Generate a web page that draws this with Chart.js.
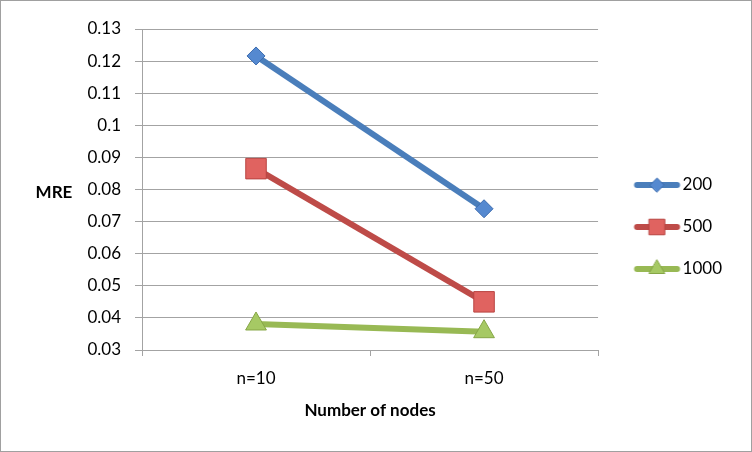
<!DOCTYPE html>
<html>
<head>
<meta charset="utf-8">
<script src="https://cdn.jsdelivr.net/npm/chart.js@4/dist/chart.umd.min.js"></script>
<style>
  html, body { margin: 0; padding: 0; background: #fff; }
  #wrap { width: 752px; height: 452px; position: relative; }
</style>
</head>
<body>
<div id="wrap"><canvas id="c" width="752" height="452"></canvas></div>
<script>
const categories = ['n=10', 'n=50'];
const seriesNames = ['200', '500', '1000'];
const s200 = [0.1216, 0.0740];
const s500 = [0.0865, 0.0450];
const s1000 = [0.0381, 0.0357];
const yTicks = [0.03, 0.04, 0.05, 0.06, 0.07, 0.08, 0.09, 0.1, 0.11, 0.12, 0.13];
const yTitle = 'MRE';
const xTitle = 'Number of nodes';

const FONT = 'Lato, "Open Sans", sans-serif';
const GRID = '#a3a3a3';

const styles = [
  { line: '#4a7ebb', fill: '#5589d0', border: '#3d6db0', point: 'rectRot', r: 9, lr: 7 },
  { line: '#be4b48', fill: '#e06360', border: '#b84441', point: 'rect', r: 14.5, lr: 11 },
  { line: '#98b954', fill: '#a6c964', border: '#86a646', point: 'triangle', r: 12, lr: 9 }
];

function legendImage(st) {
  const c = document.createElement('canvas');
  c.width = 72; c.height = 26;
  const ctx = c.getContext('2d');
  ctx.strokeStyle = st.line;
  ctx.lineWidth = 6;
  ctx.lineCap = 'round';
  ctx.beginPath();
  ctx.moveTo(24.5, 13); ctx.lineTo(64.5, 13);
  ctx.stroke();
  ctx.fillStyle = st.fill;
  ctx.strokeStyle = st.border;
  ctx.lineWidth = 1;
  Chart.helpers.drawPoint(ctx, { pointStyle: st.point, radius: st.lr, borderWidth: 1, rotation: 0 }, 44.5, 13);
  return c;
}

const values = [s200, s500, s1000];
const datasets = values.map((v, i) => ({
  label: seriesNames[i],
  data: v,
  borderColor: styles[i].line,
  backgroundColor: styles[i].fill,
  borderWidth: 6,
  pointStyle: styles[i].point,
  pointRadius: styles[i].r,
  pointHoverRadius: styles[i].r,
  pointBackgroundColor: styles[i].fill,
  pointBorderColor: styles[i].border,
  pointBorderWidth: 1,
  tension: 0
}));

const legendImgs = styles.map(legendImage);

const bgPlugin = {
  id: 'bg',
  beforeDraw(chart) {
    const ctx = chart.ctx;
    ctx.save();
    ctx.fillStyle = '#fff';
    ctx.fillRect(0, 0, chart.width, chart.height);
    ctx.strokeStyle = '#a0a0a0';
    ctx.lineWidth = 1;
    ctx.strokeRect(0.5, 0.5, chart.width - 1, chart.height - 1);
    ctx.restore();
  },
  afterDraw(chart) {
    const ctx = chart.ctx;
    ctx.save();
    ctx.font = 'bold 17px ' + FONT;
    ctx.fillStyle = '#000';
    ctx.textAlign = 'center';
    ctx.textBaseline = 'middle';
    ctx.fillText(yTitle, 54, 193);
    ctx.restore();
  }
};

new Chart(document.getElementById('c'), {
  type: 'line',
  data: { labels: categories, datasets },
  plugins: [bgPlugin],
  options: {
    responsive: false,
    animation: false,
    layout: { padding: { left: 0, top: 29, right: 20, bottom: 27 } },
    plugins: {
      tooltip: { enabled: false },
      legend: {
        position: 'right',
        align: 'center',
        labels: {
          usePointStyle: true,
          pointStyleWidth: 51,
          padding: 25,
          color: '#000',
          font: { family: FONT, size: 17 },
          generateLabels(chart) {
            const items = Chart.defaults.plugins.legend.labels.generateLabels(chart);
            items.forEach((it, i) => { it.pointStyle = legendImgs[i]; });
            return items;
          }
        }
      }
    },
    scales: {
      x: {
        type: 'category',
        offset: true,
        afterFit(s) { s.height = 75; },
        grid: { offset: true, drawOnChartArea: false, color: GRID, tickLength: 6, tickColor: GRID },
        border: { display: true, color: GRID, width: 1 },
        ticks: { color: '#000', font: { family: FONT, size: 17 }, padding: 12 },
        title: { display: true, text: xTitle, color: '#000', font: { family: FONT, size: 17, weight: 'bold' }, padding: { top: 4, bottom: 4 } }
      },
      y: {
        min: 0.03,
        max: 0.13,
        afterFit(s) { s.width = 142; },
        afterBuildTicks(s) { s.ticks = yTicks.map(v => ({ value: v })); },
        grid: { color: GRID, tickLength: 7, tickColor: GRID },
        border: { display: true, color: GRID, width: 1 },
        ticks: {
          color: '#000',
          font: { family: FONT, size: 17 },
          padding: 14,
          callback: (v) => String(+v.toFixed(2))
        }
      }
    }
  }
});
</script>
</body>
</html>
